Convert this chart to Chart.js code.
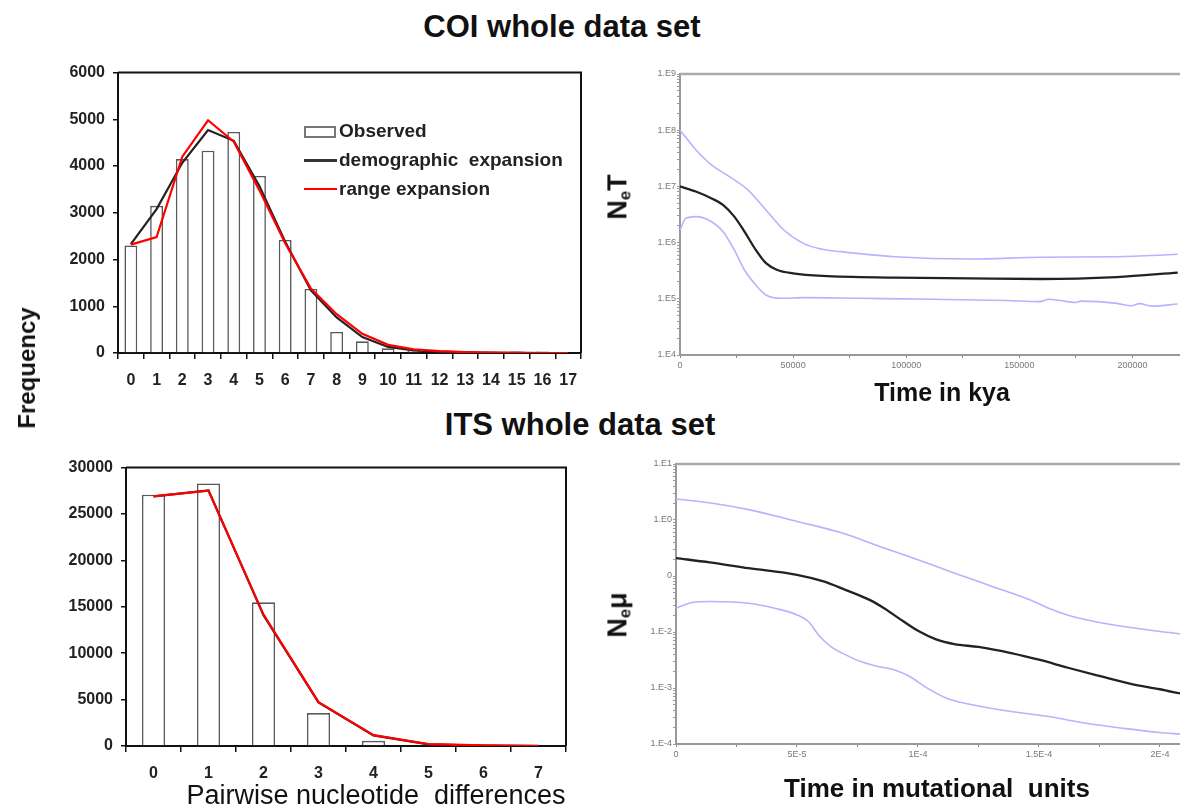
<!DOCTYPE html>
<html>
<head>
<meta charset="utf-8">
<script src="https://cdn.jsdelivr.net/npm/chart.js@4.4.1/dist/chart.umd.min.js"></script>
<style>
  html, body { margin: 0; padding: 0; background: #fff; overflow: hidden; }
  body { width: 1180px; height: 809px; position: relative; font-family: "Liberation Sans", Arial, sans-serif; color: #111; }
  canvas { position: absolute; }
  .txt { position: absolute; white-space: nowrap; transform: translate(-50%, -50%); font-weight: bold; }
  .rot { transform: translate(-50%, -50%) rotate(-90deg); }
  .leg { position: absolute; font-size: 19px; font-weight: bold; color: #222; white-space: nowrap; transform: translateY(-50%); }
  .sw { position: absolute; }
  sub { font-size: 62%; vertical-align: -0.25em; }
</style>
</head>
<body>
<canvas id="coiHist" width="570" height="345" style="left:30px;top:55px"></canvas>
<canvas id="coiSky" width="580" height="345" style="left:600px;top:55px"></canvas>
<canvas id="itsHist" width="570" height="340" style="left:30px;top:450px"></canvas>
<canvas id="itsSky" width="580" height="364" style="left:600px;top:445px"></canvas>

<div class="txt" style="left:562px;top:27px;font-size:31px">COI whole data set</div>
<div class="txt" style="left:580px;top:425px;font-size:31px">ITS whole data set</div>
<div class="txt rot" style="left:27px;top:368px;font-size:24px">Frequency</div>
<div class="txt rot" style="left:619px;top:197px;font-size:27px">N<sub>e</sub>T</div>
<div class="txt rot" style="left:619px;top:615px;font-size:27px">N<sub>e</sub>μ</div>
<div class="txt" style="left:942px;top:392px;font-size:25px">Time in kya</div>
<div class="txt" style="left:937px;top:788px;font-size:26px">Time in mutational&nbsp; units</div>
<div class="txt" style="left:376px;top:795px;font-size:27px;font-weight:normal">Pairwise nucleotide&nbsp; differences</div>

<div class="sw" style="left:304px;top:126px;width:28px;height:8px;border:2px solid #777;background:#fff"></div>
<div class="leg" style="left:339px;top:131px">Observed</div>
<div class="sw" style="left:304px;top:159px;width:33px;height:3px;background:#333"></div>
<div class="leg" style="left:339px;top:160px">demographic&nbsp; expansion</div>
<div class="sw" style="left:304px;top:188px;width:33px;height:2px;background:#ff0000"></div>
<div class="leg" style="left:339px;top:189px">range expansion</div>

<script>
// COI mismatch distribution
const coiDiff = ['0','1','2','3','4','5','6','7','8','9','10','11','12','13','14','15','16','17'];
const coiObserved = [2300, 3150, 4150, 4330, 4730, 3790, 2420, 1370, 450, 250, 100, 50, 30, 10, 30, 30, 30, 0];
const coiDemographic = [2330, 3080, 4070, 4770, 4540, 3570, 2380, 1340, 760, 340, 130, 56, 28, 14, 5, 2, 0, 0];
const coiRange = [2320, 2480, 4200, 4980, 4520, 3480, 2350, 1380, 830, 410, 175, 77, 42, 21, 8, 3, 0, 0];

// ITS mismatch distribution
const itsDiff = ['0','1','2','3','4','5','6','7'];
const itsObserved = [27080, 28290, 15480, 3550, 560, 60, 0, 0];
const itsDemographic = [26900, 27550, 14100, 4700, 1150, 180, 50, 10];
const itsRange = [26900, 27510, 14160, 4730, 1170, 210, 70, 0];

// COI skyline (time in kya, NeT)
const coiMedianT = [0, 7000, 14000, 19000, 24000, 28500, 33500, 38000, 43000, 50000, 63000, 95000, 128000, 160000, 193000, 220000];
const coiMedianNeT = [1.0e7, 8.1e6, 6.1e6, 4.7e6, 2.9e6, 1.57e6, 7.4e5, 4.3e5, 3.25e5, 2.84e5, 2.55e5, 2.38e5, 2.31e5, 2.25e5, 2.44e5, 2.92e5];
const coiUpperT = [0, 7000, 14000, 22000, 30000, 38000, 46000, 55000, 63000, 71000, 95000, 128000, 160000, 193000, 220000];
const coiUpperNeT = [1.0e8, 4.5e7, 2.4e7, 1.48e7, 8.7e6, 3.8e6, 1.66e6, 9.5e5, 7.6e5, 6.9e5, 5.6e5, 5.1e5, 5.5e5, 5.6e5, 6.2e5];
const coiLowerT = [0, 2500, 7000, 14000, 19000, 24000, 28500, 33500, 38000, 45000, 55000, 79000, 112000, 144000, 159000, 163000, 168000, 175000, 177000, 193000, 199500, 203000, 209000, 220000];
const coiLowerNeT = [1.67e6, 2.7e6, 2.9e6, 2.35e6, 1.57e6, 7.4e5, 3.25e5, 1.76e5, 1.17e5, 1.02e5, 1.05e5, 1.02e5, 9.8e4, 9.3e4, 8.9e4, 9.8e4, 9.3e4, 8.6e4, 9.1e4, 8.3e4, 7.5e4, 8.2e4, 7.4e4, 8.1e4];

// ITS skyline (time in mutational units, Ne mu)
const itsMedianT = [0, 1.4e-5, 3.0e-5, 5.0e-5, 6.1e-5, 7.0e-5, 8.0e-5, 8.6e-5, 9.2e-5, 1.0e-4, 1.075e-4, 1.15e-4, 1.25e-4, 1.385e-4, 1.5e-4, 1.62e-4, 1.75e-4, 1.88e-4, 2.0e-4, 2.083e-4];
const itsMedianNeMu = [0.209, 0.175, 0.138, 0.105, 0.080, 0.0566, 0.0375, 0.0266, 0.0177, 0.0105, 0.0074, 0.0061, 0.0054, 0.0042, 0.0032, 0.0023, 0.00164, 0.00118, 0.00095, 0.0008];
const itsUpperT = [0, 1.44e-5, 3.0e-5, 5.0e-5, 6.87e-5, 8.42e-5, 1.0e-4, 1.152e-4, 1.307e-4, 1.462e-4, 1.54e-4, 1.617e-4, 1.695e-4, 1.85e-4, 2.0e-4, 2.083e-4];
const itsUpperNeMu = [2.37, 2.01, 1.53, 0.944, 0.584, 0.337, 0.195, 0.112, 0.065, 0.0375, 0.0266, 0.0202, 0.0165, 0.0125, 0.0102, 0.0093];
const itsLowerT = [0, 6.7e-6, 1.44e-5, 3.0e-5, 4.08e-5, 5.0e-5, 5.47e-5, 5.94e-5, 6.4e-5, 7.02e-5, 7.64e-5, 8.26e-5, 9.04e-5, 9.66e-5, 1.028e-4, 1.121e-4, 1.198e-4, 1.385e-4, 1.54e-4, 1.695e-4, 1.85e-4, 2.0e-4, 2.083e-4];
const itsLowerNeMu = [0.0266, 0.0336, 0.0351, 0.0327, 0.0266, 0.0202, 0.0154, 0.0083, 0.0055, 0.0039, 0.00296, 0.00248, 0.0021, 0.0016, 0.00106, 0.00065, 0.00053, 0.00038, 0.00031, 0.000234, 0.00019, 0.00016, 0.00015];

// axis ticks for the skyline plots
const coiYTicks = [1e4, 1e5, 1e6, 1e7, 1e8, 1e9];
const coiYLabels = ['1.E4', '1.E5', '1.E6', '1.E7', '1.E8', '1.E9'];
const coiXTicks = [0, 25000, 50000, 75000, 100000, 125000, 150000, 175000, 200000];
const coiXLabels = ['0', '', '50000', '', '100000', '', '150000', '', '200000'];
const itsYTicks = [1e-4, 1e-3, 1e-2, 1e-1, 1e0, 1e1];
const itsYLabels = ['1.E-4', '1.E-3', '1.E-2', '0', '1.E0', '1.E1'];
const itsXTicks = [0, 2.5e-5, 5e-5, 7.5e-5, 1e-4, 1.25e-4, 1.5e-4, 1.75e-4, 2e-4];
const itsXLabels = ['0', '', '5E-5', '', '1E-4', '', '1.5E-4', '', '2E-4'];

Chart.defaults.font.family = '"Liberation Sans", Arial, sans-serif';
Chart.defaults.animation = false;

// box line on top (and right) of the plot area
const framePlugin = {
    id: 'frame',
    afterDraw(chart, args, opts) {
        const { ctx, chartArea: a } = chart;
        ctx.save();
        ctx.strokeStyle = opts.color || '#000';
        ctx.lineWidth = opts.width || 2;
        ctx.beginPath();
        ctx.moveTo(a.left, a.top);
        ctx.lineTo(a.right, a.top);
        if (opts.right) ctx.lineTo(a.right, a.bottom);
        ctx.stroke();
        ctx.restore();
    }
};
Chart.register(framePlugin);

const pts = (xs, ys) => xs.map((x, i) => ({ x: x, y: ys[i] }));

function histChart(id, labels, observed, demo, range, yMax, yStep, yWidth, xHeight, pad, barPct) {
    return new Chart(document.getElementById(id), {
        type: 'bar',
        data: {
            labels: labels,
            datasets: [
                { type: 'line', data: range, borderColor: '#ff0000', borderWidth: 2.2, pointRadius: 0, tension: 0, order: 1 },
                { type: 'line', data: demo, borderColor: '#222', borderWidth: 2.2, pointRadius: 0, tension: 0, order: 2 },
                { data: observed, backgroundColor: '#fff', borderColor: '#5a5a5a', borderWidth: 1.6,
                  barPercentage: barPct, categoryPercentage: 1, order: 3 }
            ]
        },
        options: {
            responsive: false,
            layout: { padding: pad },
            plugins: { legend: { display: false }, tooltip: { enabled: false }, frame: { color: '#111', width: 2, right: true } },
            scales: {
                x: {
                    afterFit: s => { s.height = xHeight; },
                    grid: { drawOnChartArea: false, offset: true, tickLength: 6, color: '#111', lineWidth: 1.5 },
                    border: { color: '#111', width: 2 },
                    ticks: { color: '#222', font: { size: 16, weight: 'bold' }, padding: 12, maxRotation: 0, autoSkip: false }
                },
                y: {
                    min: 0, max: yMax,
                    afterFit: s => { s.width = yWidth; },
                    grid: { drawOnChartArea: false, tickLength: 5, color: '#111', lineWidth: 1.5 },
                    border: { color: '#111', width: 2 },
                    ticks: { stepSize: yStep, callback: v => String(v), color: '#222', font: { size: 16, weight: 'bold' }, padding: 8 }
                }
            }
        }
    });
}

function skyChart(id, series, xMax, xTicks, xLabels, yMin, yMax, yTicks, yLabels, yWidth, xHeight, padTop) {
    // minor log ticks between the labelled decades
    const allY = [];
    yTicks.forEach((v, i) => {
        allY.push(v);
        if (i < yTicks.length - 1) for (let m = 2; m <= 9; m++) allY.push(v * m);
    });
    const labelOf = v => {
        const i = yTicks.findIndex(t => Math.abs(t - v) / t < 1e-6);
        return i >= 0 ? yLabels[i] : '';
    };
    return new Chart(document.getElementById(id), {
        type: 'line',
        data: {
            datasets: series.map(s => ({
                data: pts(s.t, s.v), borderColor: s.color, borderWidth: s.width,
                pointRadius: 0, cubicInterpolationMode: 'monotone', fill: false
            }))
        },
        options: {
            responsive: false,
            layout: { padding: { top: padTop, right: 0, left: 0, bottom: 0 } },
            plugins: { legend: { display: false }, tooltip: { enabled: false }, frame: { color: '#aaa', width: 2.5, right: false } },
            scales: {
                x: {
                    type: 'linear', min: 0, max: xMax,
                    afterFit: s => { s.height = xHeight; },
                    afterBuildTicks: s => { s.ticks = xTicks.map(v => ({ value: v })); },
                    grid: { drawOnChartArea: false, tickLength: 3, color: '#888' },
                    border: { color: '#999', width: 2 },
                    ticks: { callback: (v, i) => xLabels[i], color: '#777', font: { size: 9 }, padding: 2, maxRotation: 0, autoSkip: false }
                },
                y: {
                    type: 'logarithmic', min: yMin, max: yMax,
                    afterFit: s => { s.width = yWidth; },
                    afterBuildTicks: s => { s.ticks = allY.map(v => ({ value: v })); },
                    grid: { drawOnChartArea: false, tickLength: 3, color: '#999' },
                    border: { color: '#999', width: 2 },
                    ticks: { callback: v => labelOf(v), color: '#777', font: { size: 9 }, padding: 1, autoSkip: false }
                }
            }
        }
    });
}

histChart('coiHist', coiDiff, coiObserved, coiDemographic, coiRange, 6000, 1000, 88, 47,
    { top: 14, right: 19, left: 0, bottom: 0 }, 0.5);
histChart('itsHist', itsDiff, itsObserved, itsDemographic, itsRange, 30000, 5000, 96, 44,
    { top: 15, right: 34, left: 0, bottom: 0 }, 0.42);

const blue = '#b4b4ff';
skyChart('coiSky', [
    { t: coiUpperT, v: coiUpperNeT, color: blue, width: 1.6 },
    { t: coiLowerT, v: coiLowerNeT, color: blue, width: 1.6 },
    { t: coiMedianT, v: coiMedianNeT, color: '#222', width: 2.3 }
], 221000, coiXTicks, coiXLabels, 1e4, 1e9, coiYTicks, coiYLabels, 80, 45, 19);

skyChart('itsSky', [
    { t: itsUpperT, v: itsUpperNeMu, color: blue, width: 1.6 },
    { t: itsLowerT, v: itsLowerNeMu, color: blue, width: 1.6 },
    { t: itsMedianT, v: itsMedianNeMu, color: '#222', width: 2.3 }
], 2.083e-4, itsXTicks, itsXLabels, 1e-4, 1e1, itsYTicks, itsYLabels, 76, 65, 19);
</script>
</body>
</html>
